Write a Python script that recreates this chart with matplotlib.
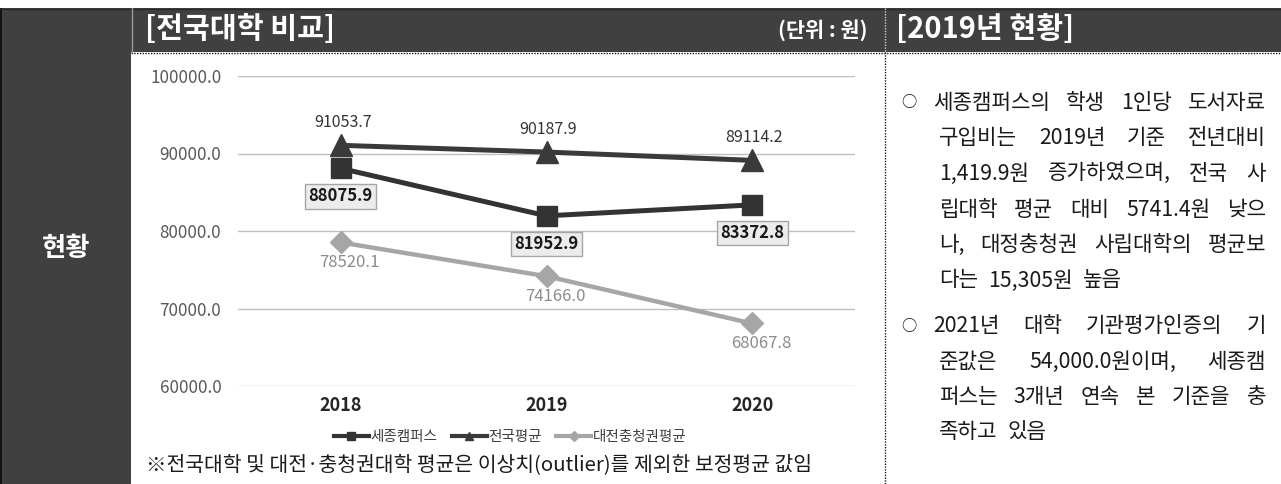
import matplotlib
matplotlib.use('Agg')
import matplotlib.pyplot as plt
from matplotlib.patches import Rectangle
from matplotlib.lines import Line2D

plt.rcParams['font.family'] = ['Noto Sans CJK KR', 'DejaVu Sans']

# ---------------- data ----------------
years = ['2018', '2019', '2020']
sejong = [88075.9, 81952.9, 83372.8]
national = [91053.7, 90187.9, 89114.2]
daejeon = [78520.1, 74166.0, 68067.8]
series_names = ['세종캠퍼스', '전국평균', '대전충청권평균']
y_ticks = [60000, 70000, 80000, 90000, 100000]

left_title = '현황'
chart_title = '[전국대학 비교]'
unit_text = '(단위 : 원)'
right_title = '[2019년 현황]'
footnote = '※전국대학 및 대전·충청권대학 평균은 이상치(outlier)를 제외한 보정평균 값임'
para1 = ['세종캠퍼스의 학생 1인당 도서자료',
         '구입비는 2019년 기준 전년대비',
         '1,419.9원 증가하였으며, 전국 사',
         '립대학 평균 대비 5741.4원 낮으',
         '나, 대정충청권 사립대학의 평균보',
         '다는 15,305원 높음']
para2 = ['2021년 대학 기관평가인증의 기',
         '준값은 54,000.0원이며, 세종캠',
         '퍼스는 3개년 연속 본 기준을 충',
         '족하고 있음']

# ---------------- figure ----------------
W, H = 1281, 484
fig = plt.figure(figsize=(W / 100, H / 100), dpi=100)
fig.patch.set_facecolor('white')


def fx(x):
    return x / W


def fy(y):
    return 1 - y / H


def rect(x0, y0, x1, y1, **kw):
    fig.add_artist(Rectangle((fx(x0), fy(y1)), fx(x1) - fx(x0), fy(y0) - fy(y1),
                             transform=fig.transFigure, **kw))


def hline(x0, x1, y, **kw):
    fig.add_artist(Line2D([fx(x0), fx(x1)], [fy(y), fy(y)], transform=fig.transFigure, **kw))


def vline(x, y0, y1, **kw):
    fig.add_artist(Line2D([fx(x), fx(x)], [fy(y0), fy(y1)], transform=fig.transFigure, **kw))


DARK = '#404040'
rect(0, 8, 2, 484, fc='#111111', ec='none')
rect(2, 8, 131, 484, fc=DARK, ec='none')
rect(131, 8, W, 52, fc=DARK, ec='none')
hline(0, W, 8.5, color='#2a2a2a', lw=1)
vline(131.5, 8, 52, color='#9a9a9a', lw=1)
hline(131, W, 52.5, color='#1a1a1a', lw=1, linestyle=(0, (1, 1)))
vline(884.5, 52, H, color='#1a1a1a', lw=1, linestyle=(0, (1, 1)))
vline(884.5, 8, 52, color='#cfcfcf', lw=1, linestyle=(0, (1, 1)))

fig.text(fx(66), fy(248), left_title, color='white', fontsize=19, fontweight='bold',
         ha='center', va='center')
fig.text(fx(145), fy(29), chart_title, color='white', fontsize=21, fontweight='bold',
         ha='left', va='center')
fig.text(fx(868), fy(30), unit_text, color='white', fontsize=15, fontweight='bold',
         ha='right', va='center')
fig.text(fx(896), fy(29), right_title, color='white', fontsize=21, fontweight='bold',
         ha='left', va='center')

# ---------------- chart ----------------
ax = fig.add_axes([fx(238), fy(386), fx(855) - fx(238), fy(76) - fy(386)])
ax.set_facecolor('none')
x = list(range(len(years)))
ax.set_xlim(-0.5, 2.5)
ax.set_ylim(60000, 100000)
ax.set_yticks(y_ticks)
ax.set_yticklabels([f'{v:.1f}' for v in y_ticks], color='#595959', fontsize=12.3)
ax.set_xticks(x)
ax.set_xticklabels(years, fontsize=13, fontweight='bold', color='#262626')
ax.tick_params(axis='y', length=0, pad=12)
ax.tick_params(axis='x', length=0, pad=7)
ax.yaxis.grid(True, color='#bfbfbf', lw=1)
ax.set_axisbelow(True)
for s in ax.spines.values():
    s.set_visible(False)

c_sejong, c_nat, c_dj = '#333333', '#3a3a3a', '#a6a6a6'
ax.plot(x, daejeon, color=c_dj, lw=3.2, marker='D', markersize=11, zorder=3)
ax.plot(x, sejong, color=c_sejong, lw=3.6, marker='s', markersize=15, zorder=4)
ax.plot(x, national, color=c_nat, lw=3.6, marker='^', markersize=16, zorder=5)

for i, v in enumerate(national):
    ax.annotate(f'{v:.1f}', (i, v), xytext=(2, 23), textcoords='offset pixels',
                ha='center', va='center', fontsize=11.5, color='#333333', zorder=6)
for i, v in enumerate(sejong):
    ax.annotate(f'{v:.1f}', (i, v), xytext=(0, -28), textcoords='offset pixels',
                ha='center', va='center', fontsize=12, fontweight='bold', color='#1a1a1a',
                bbox=dict(boxstyle='square,pad=0.2', fc='#ececec', ec='#a6a6a6', lw=1),
                zorder=6)
for i, v in enumerate(daejeon):
    ax.annotate(f'{v:.1f}', (i, v), xytext=(9, -20), textcoords='offset pixels',
                ha='center', va='center', fontsize=12, color='#8c8c8c', zorder=6)

handles = [
    Line2D([], [], color=c_sejong, lw=3, marker='s', markersize=6),
    Line2D([], [], color=c_nat, lw=3, marker='^', markersize=6),
    Line2D([], [], color=c_dj, lw=3, marker='D', markersize=5),
]
fig.legend(handles, series_names, loc='center', bbox_to_anchor=(fx(510), fy(437)),
           bbox_transform=fig.transFigure, ncol=3, frameon=False, fontsize=10.5,
           handlelength=2.4, handletextpad=0.1, columnspacing=1.0, labelcolor='#404040')

fig.text(fx(146), fy(465), footnote, fontsize=14.7, color='#1a1a1a', ha='left', va='center')

# ---------------- right text ----------------
renderer = fig.canvas.get_renderer()
TXT = dict(fontsize=15.3, color='#1a1a1a')


def place_line(line, x0, x1, y, justify):
    words = line.split(' ')
    texts = [fig.text(0, fy(y), w, va='center', ha='left', **TXT) for w in words]
    widths = [t.get_window_extent(renderer).width for t in texts]
    if justify and len(words) > 1:
        gap = (x1 - x0 - sum(widths)) / (len(words) - 1)
    else:
        gap = 10
    xx = x0
    for t, w in zip(texts, widths):
        t.set_x(fx(xx))
        xx += w + gap


def paragraph(lines, y0, step):
    fig.text(fx(909), fy(y0), '○', ha='center', va='center', fontsize=11, color='#1a1a1a')
    for k, line in enumerate(lines):
        x0 = 933 if k == 0 else 939
        place_line(line, x0, 1266, y0 + k * step, k < len(lines) - 1)


paragraph(para1, 103, 35.5)
paragraph(para2, 326, 35.5)

fig.savefig('out.png', dpi=100)
